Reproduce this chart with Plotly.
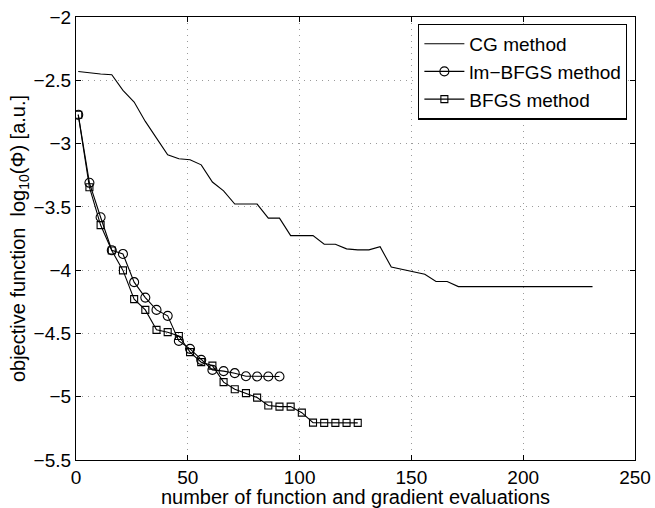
import plotly.graph_objects as go

cg_x = list(range(1, 232, 5))
cg_y = [-2.43, -2.443, -2.45, -2.456, -2.58, -2.672, -2.825, -2.957, -3.089, -3.12,
        -3.128, -3.168, -3.304, -3.373, -3.478, -3.478, -3.478, -3.589, -3.589, -3.727,
        -3.727, -3.727, -3.795, -3.795, -3.832, -3.84, -3.84, -3.815, -3.976, -3.995,
        -4.013, -4.032, -4.09, -4.09, -4.13, -4.13, -4.13, -4.13, -4.13, -4.13,
        -4.13, -4.13, -4.13, -4.13, -4.13, -4.13, -4.13]

lm_x = list(range(1, 92, 5))
lm_y = [-2.772, -3.31, -3.582, -3.843, -3.872, -4.095, -4.217, -4.314, -4.361, -4.559,
        -4.622, -4.709, -4.788, -4.798, -4.814, -4.838, -4.84, -4.84, -4.84]

bfgs_x = list(range(1, 127, 5))
bfgs_y = [-2.772, -3.345, -3.644, -3.845, -4.002, -4.229, -4.314, -4.472, -4.49, -4.52,
          -4.648, -4.727, -4.754, -4.885, -4.941, -4.972, -5.007, -5.07, -5.078, -5.078,
          -5.126, -5.205, -5.207, -5.207, -5.207, -5.207]

series_names = ["CG method", "lm\u2212BFGS method", "BFGS method"]
x_ticks = [0, 50, 100, 150, 200, 250]
y_ticks = [-2, -2.5, -3, -3.5, -4, -4.5, -5, -5.5]

FONT = "Liberation Sans, Arial, Helvetica, sans-serif"
FS_TICK = 19
FS = 20

fig = go.Figure()
fig.add_trace(go.Scatter(x=cg_x, y=cg_y, mode="lines", name=series_names[0],
                         line=dict(color="black", width=1.1)))
fig.add_trace(go.Scatter(x=lm_x, y=lm_y, mode="lines+markers", name=series_names[1],
                         line=dict(color="black", width=1.1),
                         marker=dict(symbol="circle-open", size=9, color="black",
                                     line=dict(width=1.1, color="black"))))
fig.add_trace(go.Scatter(x=bfgs_x, y=bfgs_y, mode="lines+markers", name=series_names[2],
                         line=dict(color="black", width=1.1),
                         marker=dict(symbol="square-open", size=7, color="black",
                                     line=dict(width=1.1, color="black"))))

axis_common = dict(
    showline=True, linecolor="black", linewidth=1.2, mirror="ticks",
    ticks="inside", ticklen=5, tickcolor="black",
    showgrid=True, gridcolor="#9a9a9a", gridwidth=1, griddash="1px,5px",
    zeroline=False, tickfont=dict(size=FS_TICK, color="black", family=FONT),
    automargin=False,
)

fig.update_xaxes(range=[0, 250], tickvals=x_ticks,
                 title=dict(text="number of function and gradient evaluations",
                            font=dict(size=FS, color="black", family=FONT), standoff=0),
                 **axis_common)
fig.update_yaxes(range=[-5.5, -2], tickvals=y_ticks,
                 title=dict(text="objective function  log<sub>10</sub>(\u03a6) [a.u.]",
                            font=dict(size=FS, color="black", family=FONT), standoff=2),
                 **axis_common)

fig.update_layout(
    width=655, height=508,
    margin=dict(l=76, r=20, t=17, b=48),
    paper_bgcolor="white", plot_bgcolor="white",
    font=dict(family=FONT, size=FS, color="black"),
    showlegend=True,
    legend=dict(x=0.986, y=0.985, xanchor="right", yanchor="top",
                bgcolor="white", bordercolor="black", borderwidth=1.2,
                font=dict(size=19, color="black", family=FONT),
                tracegroupgap=0, itemwidth=40),
)

fig.write_html(
    "out.html",
    config={"displayModeBar": False},
    post_script="document.body.style.margin='0';document.body.style.overflow='hidden';",
)
